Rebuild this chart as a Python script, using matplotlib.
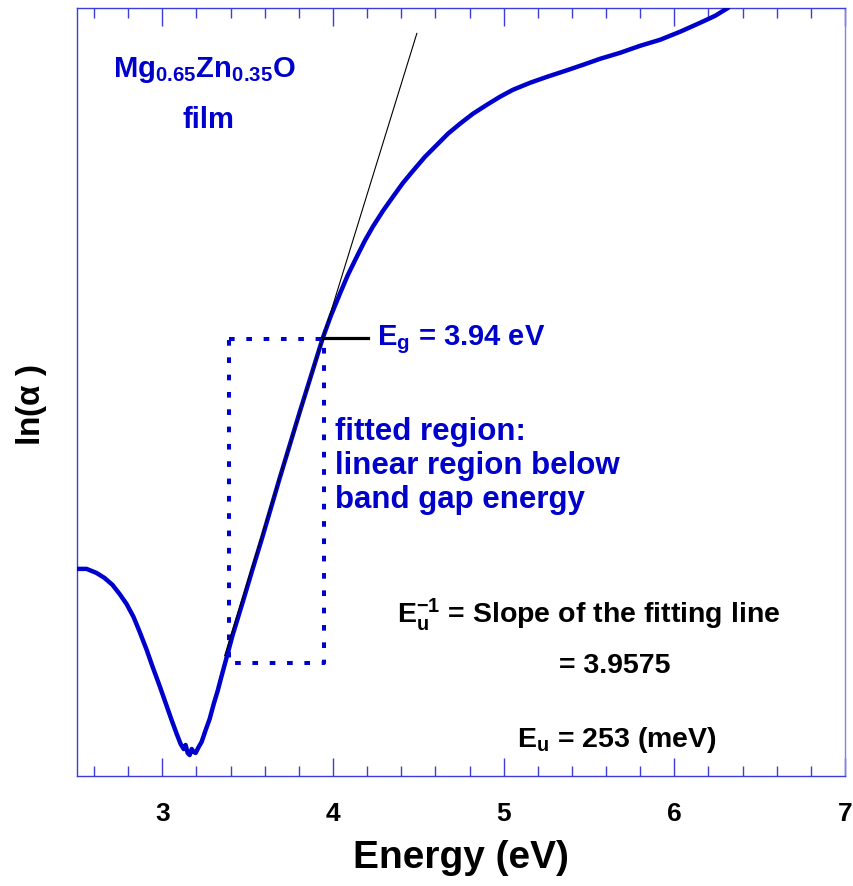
import matplotlib
matplotlib.use("Agg")
import matplotlib.pyplot as plt

plt.rcParams["font.family"] = ["Liberation Sans", "DejaVu Sans"]
plt.rcParams["font.weight"] = "bold"
plt.rcParams["mathtext.fontset"] = "custom"
plt.rcParams["mathtext.rm"] = "Liberation Sans:bold"
plt.rcParams["mathtext.bf"] = "Liberation Sans:bold"
plt.rcParams["mathtext.it"] = "Liberation Sans:bold"

# absorption curve (energy in eV, ln(alpha) with arbitrary offset)
energy = [2.500, 2.556, 2.614, 2.661, 2.708, 2.749, 2.790, 2.831, 2.867, 2.908,
          2.943, 2.984, 3.019, 3.054, 3.084, 3.107, 3.125, 3.136, 3.148, 3.160,
          3.172, 3.183, 3.195, 3.213, 3.230, 3.254, 3.277, 3.301, 3.324, 3.347,
          3.371, 3.412, 3.471, 3.529, 3.588, 3.688, 3.805, 3.940, 3.987, 4.040,
          4.087, 4.139, 4.186, 4.233, 4.292, 4.350, 4.409, 4.468, 4.538, 4.608,
          4.673, 4.743, 4.819, 4.902, 4.978, 5.054, 5.154, 5.254, 5.359, 5.465,
          5.565, 5.682, 5.799, 5.916, 6.034, 6.151, 6.239, 6.315]
ln_alpha = [10.483, 10.483, 10.454, 10.418, 10.368, 10.304, 10.232, 10.139, 10.032, 9.903,
            9.781, 9.645, 9.523, 9.401, 9.301, 9.229, 9.193, 9.222, 9.165, 9.150,
            9.193, 9.172, 9.165, 9.208, 9.244, 9.330, 9.408, 9.516, 9.609, 9.716,
            9.824, 10.010, 10.246, 10.483, 10.719, 11.135, 11.607, 12.137, 12.295, 12.453,
            12.588, 12.718, 12.832, 12.933, 13.046, 13.146, 13.246, 13.333, 13.433, 13.519,
            13.599, 13.670, 13.742, 13.807, 13.864, 13.914, 13.964, 14.007, 14.049, 14.093,
            14.136, 14.179, 14.229, 14.272, 14.330, 14.394, 14.444, 14.501]

# Urbach fit
e_g = 3.94
y_g = 12.137
slope = 3.9575
fit_x = [3.365, 4.491]
fit_y = [y_g + slope * (x - e_g) for x in fit_x]

# fitted region box
box_x = [3.39, 3.95]
box_y = [9.81, 12.13]

blue = "#0000cc"
spine = "#3c3cdc"

fig = plt.figure(figsize=(8.54, 8.86), dpi=100)
ax = fig.add_axes([0.0902, 0.1242, 0.8993, 0.8668])

ax.plot(energy, ln_alpha, color=blue, lw=3.2, solid_joinstyle="round",
        solid_capstyle="round", zorder=3)
ax.plot(fit_x, fit_y, color="black", lw=0.8, zorder=4)

bx = [box_x[0], box_x[1], box_x[1], box_x[0], box_x[0]]
by = [box_y[1], box_y[1], box_y[0], box_y[0], box_y[1]]
ax.plot(bx, by, color=blue, lw=2.9, linestyle=(0, (1.4, 2.9)),
        dash_capstyle="butt", zorder=2)

# Eg marker
ax.plot([e_g, 4.204], [y_g, y_g], color="black", lw=2.3, zorder=4)
ax.text(4.257, 12.087, r"$\mathbf{E_g}$ = 3.94 eV", color=blue, fontsize=21,
        fontweight="bold", va="baseline", ha="left")

ax.text(3.248, 14.007, r"Mg$_{\mathbf{0.65}}$Zn$_{\mathbf{0.35}}$O", color=blue,
        fontsize=21, fontweight="bold", va="baseline", ha="center")
ax.text(3.271, 13.642, "film", color=blue, fontsize=21, fontweight="bold",
        va="baseline", ha="center")

for txt, yy in [("fitted region:", 11.407),
                ("linear region below", 11.163),
                ("band gap energy", 10.920)]:
    ax.text(4.010, yy, txt, color=blue, fontsize=22.5, fontweight="bold",
            va="baseline", ha="left")

ax.text(4.374, 10.096, r"$\mathbf{E_u^{-1}}$ = Slope of the fitting line",
        color="black", fontsize=20.5, fontweight="bold", va="baseline", ha="left")
ax.text(5.652, 9.738, "= 3.9575", color="black", fontsize=20.5,
        fontweight="bold", va="baseline", ha="center")
ax.text(5.664, 9.208, r"$\mathbf{E_u}$ = 253 (meV)", color="black",
        fontsize=20.5, fontweight="bold", va="baseline", ha="center")

ax.set_xlim(2.5, 7.0)
ax.set_ylim(9.0, 14.5)
ax.set_xticks([3, 4, 5, 6, 7])
ax.set_xticks([2.6, 2.8, 3.2, 3.4, 3.6, 3.8, 4.2, 4.4, 4.6, 4.8,
               5.2, 5.4, 5.6, 5.8, 6.2, 6.4, 6.6, 6.8], minor=True)
ax.set_yticks([])
ax.xaxis.set_ticks_position("both")
ax.tick_params(axis="x", which="both", direction="in", top=True, bottom=True,
               color=spine, width=1.0, labelsize=19, pad=19)
ax.tick_params(axis="x", which="major", length=13)
ax.tick_params(axis="x", which="minor", length=7)
for lab in ax.get_xticklabels():
    lab.set_fontweight("bold")

for side in ["left", "top", "bottom"]:
    ax.spines[side].set_color(spine)
    ax.spines[side].set_linewidth(1.0)
ax.spines["right"].set_color("#8080f0")
ax.spines["right"].set_linewidth(1.0)

ax.set_xlabel("Energy (eV)", fontsize=28, fontweight="bold", labelpad=10)
ax.set_ylabel(r"ln($\alpha$ )", fontsize=24, fontweight="bold")
ax.yaxis.set_label_coords(-0.037, 0.483)

fig.savefig("out.png", dpi=100)
